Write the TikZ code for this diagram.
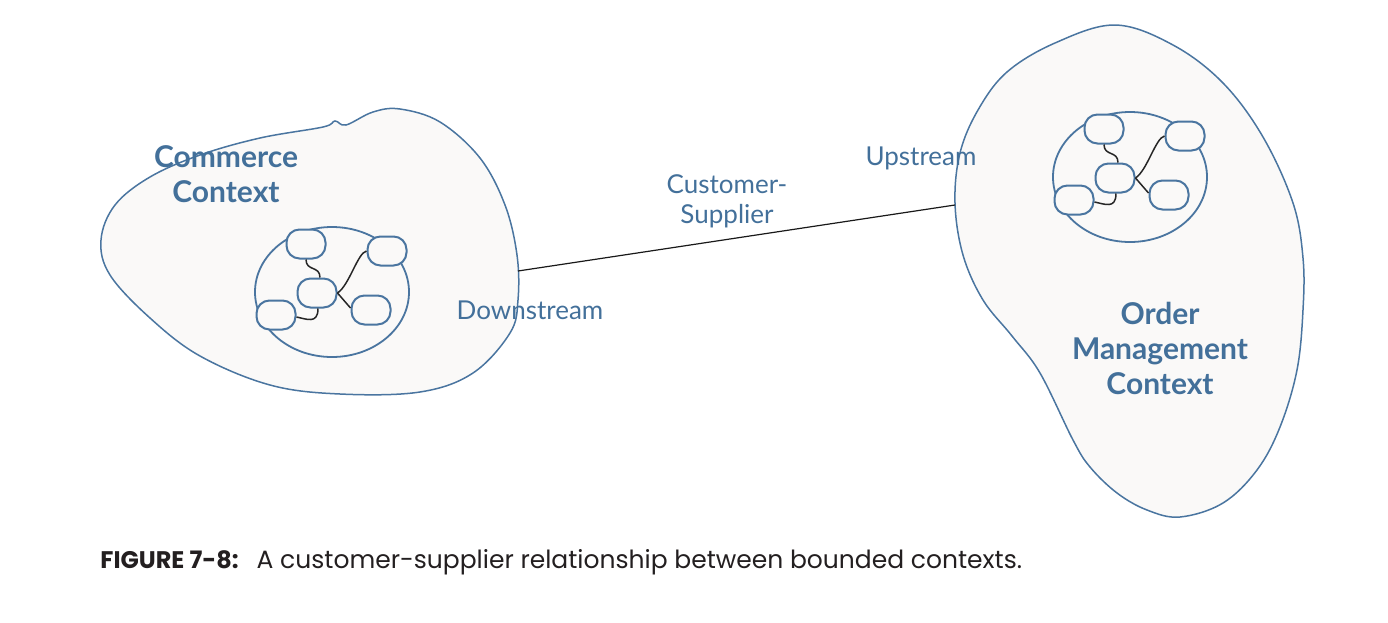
\documentclass[tikz,border=0pt]{standalone}
\usepackage{fontspec}
\setmainfont{Lato}
\newfontfamily\capfont{Poppins}
\definecolor{blobline}{HTML}{4A75A0}
\definecolor{bloblabel}{HTML}{43709A}
\definecolor{blobfill}{HTML}{FAF9F8}
\definecolor{captext}{HTML}{231F20}
\tikzset{
  blob/.style={draw=blobline, line width=0.75pt, fill=blobfill},
  entity/.style={draw=blobline, line width=1pt, fill=blobfill, rounded corners=6.5pt,
    minimum width=19.5pt, minimum height=14.5pt, inner sep=0pt},
  clusterring/.style={draw=blobline, line width=0.9pt, fill=blobfill},
  wire/.style={draw=black!85, line width=0.75pt},
  relation/.style={draw=black!90, line width=0.6pt},
  ctxlabel/.style={text=bloblabel, font=\bfseries\fontsize{15}{17.5}\selectfont, align=center},
  rellabel/.style={text=bloblabel, font=\fontsize{13}{15}\selectfont, align=center},
}
\newcommand\mycluster[3]{%
  \begin{scope}[shift={(#2,#3)}]
    \draw[clusterring] (0,0) ellipse [x radius=38.5pt, y radius=32.5pt];
    \node[entity] (#1a) at (-26,-48) {};
    \node[entity] (#1b) at (55,-41) {};
    \node[entity] (#1c) at (-15,1) {};
    \node[entity] (#1d) at (-56,23) {};
    \node[entity] (#1e) at (39,18) {};
    \draw[wire] (#1a.south) .. controls +(0,12) and +(0,-12) .. ([xshift=1.5pt]#1c.north);
    \draw[wire] (#1b.west) .. controls +(-9,2) and +(12,-8) .. (#1c.east);
    \draw[wire] (#1c.east) -- ([yshift=1pt]#1e.west);
    \draw[wire] ([xshift=0.5pt]#1c.south) .. controls +(0,16) and +(10,2) .. ([yshift=-1pt]#1d.east);
  \end{scope}}
\begin{document}
\begin{tikzpicture}[x=0.5pt,y=-0.5pt]
\useasboundingbox (0,0) rectangle (1388,622);
% Commerce context blob
\draw[blob] plot[smooth cycle, tension=0.6] coordinates {
  (101,240) (115,205) (150,177) (200,155) (260,138) (323,127) (335,121) (346,125)
  (373,112) (400,109) (440,122) (480,158) (505,205) (517,255) (518,300) (510,333)
  (473,373) (420,392) (340,394) (270,385) (200,356) (150,318) (110,275)};
% Order management blob
\draw[blob] plot[smooth cycle, tension=0.6] coordinates {
  (1115,25) (1173,45) (1223,83) (1263,137) (1293,203) (1303,258) (1303,310)
  (1297,370) (1280,427) (1257,470) (1223,503) (1180,517) (1147,510) (1117,493)
  (1090,467) (1073,440) (1040,373) (1012,336) (983,300)
  (963,255) (955,203) (960,153) (978,110) (1007,72) (1055,43)};
\mycluster{l}{332}{292}
\mycluster{r}{1130}{177}
% relation
\coordinate (down) at (518,271);
\coordinate (up) at (955,205);
\draw[relation] (down) -- (up);
% labels
\node[ctxlabel] (commerce) at (226,174) {Commerce\\Context};
\node[ctxlabel] (order) at (1160,348) {Order\\Management\\Context};
\node[rellabel] (custsup) at (727,201) {Customer-\\Supplier};
\node[rellabel] (upstream) at (921,158) {Upstream};
\node[rellabel] (downstream) at (530,310) {Downstream};
% caption
\node[anchor=base west, inner sep=0pt, text=captext, font=\capfont\fontsize{12}{15}\selectfont] (caption) at (100,568)
  {\textbf{FIGURE 7-8:}\hspace{9pt}{\fontsize{12.5}{15}\selectfont A customer-supplier relationship between bounded contexts.}};
\end{tikzpicture}
\end{document}
